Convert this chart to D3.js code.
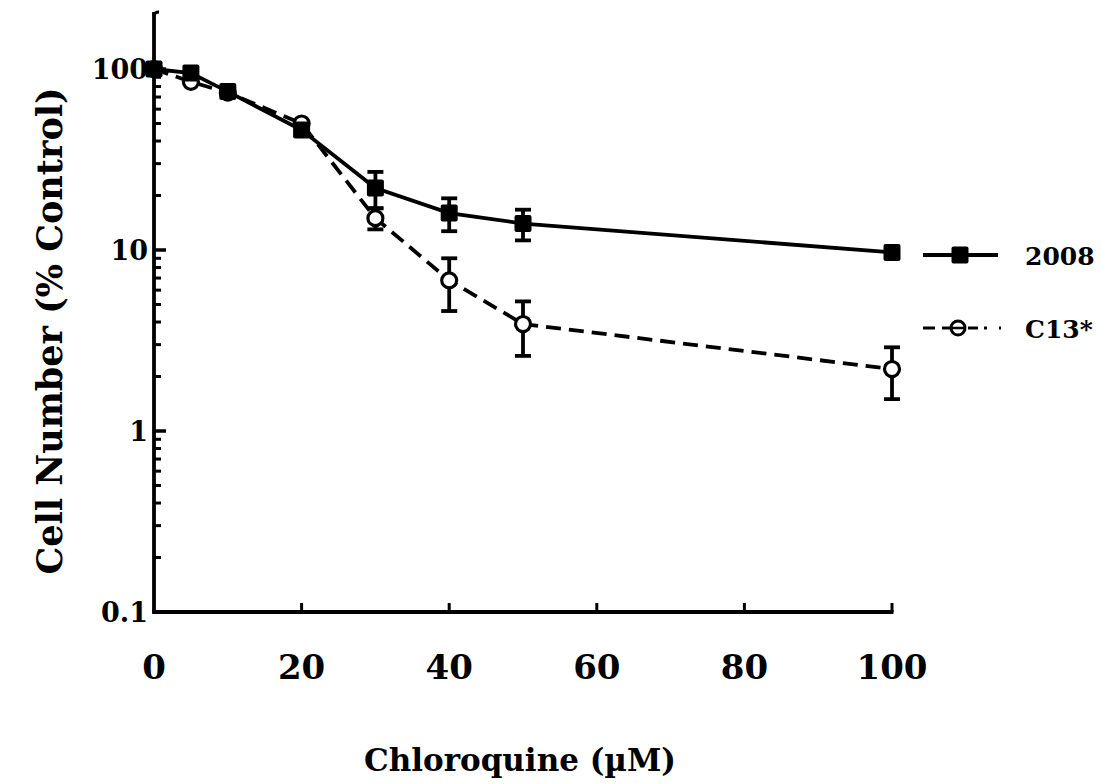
<!DOCTYPE html>
<html>
<head>
<meta charset="utf-8">
<script src="https://cdn.jsdelivr.net/npm/d3@7"></script>
<style>
  html, body { margin: 0; padding: 0; background: #fff; }
  svg { display: block; }
  text { font-family: "DejaVu Serif", "Liberation Serif", serif; font-weight: bold; fill: #000; }
</style>
</head>
<body>
<svg id="chart" width="1102" height="784"></svg>
<script>
// ---- data ----
const concentrations = [0, 5, 10, 20, 30, 40, 50, 100];
const values2008 = [100, 95, 75, 46, 22, 16, 14, 9.7];
const errors2008 = [0, 0, 0, 0, 5, 3.3, 2.7, 0];
const valuesC13 = [100, 85, 74, 50, 15, 6.8, 3.9, 2.2];
const errorsC13 = [0, 0, 0, 0, 2, 2.2, 1.3, 0.7];
const xTickValues = [0, 20, 40, 60, 80, 100];
const yTickValues = [0.1, 1, 10, 100];
const seriesNames = ["2008", "C13*"];
const xTitle = "Chloroquine (\u00B5M)";
const yTitle = "Cell Number (% Control)";

const svg = d3.select("#chart");
const x = d3.scaleLinear().domain([0, 100]).range([154, 892]);
const y = d3.scaleLog().domain([0.1, 100]).range([612, 69]);
const yTop = 12;

const ink = "#000";
const lw = 3.8;

// ---- axes ----
const g = svg.append("g");
g.append("line").attr("x1", x(0)).attr("x2", x(0)).attr("y1", yTop).attr("y2", y(0.1))
  .attr("stroke", ink).attr("stroke-width", lw);
g.append("path").attr("d", `M${x(0)},${yTop + 4} Q${x(0)},${yTop} ${x(0) + 5},${yTop}`)
  .attr("fill", "none").attr("stroke", ink).attr("stroke-width", 3);
g.append("line").attr("x1", x(0) - 1.9).attr("x2", x(100) + 1.5).attr("y1", y(0.1)).attr("y2", y(0.1))
  .attr("stroke", ink).attr("stroke-width", lw);

const yMajor = yTickValues.filter(v => v > 0.1);
g.selectAll(".ymaj").data(yMajor).enter().append("line")
  .attr("x1", x(0)).attr("x2", x(0) + 12).attr("y1", d => y(d)).attr("y2", d => y(d))
  .attr("stroke", ink).attr("stroke-width", 3.5);
const yMinor = [];
[0.1, 1, 10].forEach(dec => { for (let k = 2; k <= 9; k++) yMinor.push(dec * k); });
g.selectAll(".ymin").data(yMinor).enter().append("line")
  .attr("x1", x(0)).attr("x2", x(0) + 7).attr("y1", d => y(d)).attr("y2", d => y(d))
  .attr("stroke", ink).attr("stroke-width", 3);
g.selectAll(".ylab").data(yTickValues).enter().append("text")
  .attr("x", 148).attr("y", d => y(d)).attr("dy", "0.36em")
  .attr("text-anchor", "end").attr("font-size", 27)
  .text(d => d3.format("~g")(d));

g.selectAll(".xt").data(xTickValues.filter(v => v > 0)).enter().append("line")
  .attr("x1", d => x(d)).attr("x2", d => x(d)).attr("y1", y(0.1)).attr("y2", y(0.1) - 9)
  .attr("stroke", ink).attr("stroke-width", 3);
g.selectAll(".xlab").data(xTickValues).enter().append("text")
  .attr("x", d => x(d)).attr("y", 679)
  .attr("text-anchor", "middle").attr("font-size", 34)
  .text(d => d);

// titles
svg.append("text").attr("x", 520).attr("y", 771).attr("text-anchor", "middle")
  .attr("font-size", 31).text(xTitle);
svg.append("text").attr("transform", "translate(62,331) rotate(-90)")
  .attr("text-anchor", "middle").attr("font-size", 35).text(yTitle);

// ---- data series ----
const line = d3.line().x(d => x(d.c)).y(d => y(d.v));
const rows = (vals, errs) => concentrations.map((c, i) => ({ c, v: vals[i], e: errs[i] }));
const dC13 = rows(valuesC13, errorsC13);
const d2008 = rows(values2008, errors2008);

function errorBars(data) {
  const eb = svg.append("g");
  data.filter(d => d.e > 0).forEach(d => {
    const top = y(d.v + d.e), bot = y(d.v - d.e), cx = x(d.c);
    eb.append("line").attr("x1", cx).attr("x2", cx).attr("y1", top).attr("y2", bot)
      .attr("stroke", ink).attr("stroke-width", 3.8);
    [top, bot].forEach(yy => eb.append("line").attr("x1", cx - 8).attr("x2", cx + 8)
      .attr("y1", yy).attr("y2", yy).attr("stroke", ink).attr("stroke-width", 3.8));
  });
}

svg.append("path").datum(dC13).attr("d", line).attr("fill", "none")
  .attr("stroke", ink).attr("stroke-width", lw).attr("stroke-dasharray", "15,8");
errorBars(dC13);
svg.append("g").selectAll("circle").data(dC13).enter().append("circle")
  .attr("cx", d => x(d.c)).attr("cy", d => y(d.v)).attr("r", 7.5)
  .attr("fill", "#fff").attr("stroke", ink).attr("stroke-width", 3.2);

svg.append("path").datum(d2008).attr("d", line).attr("fill", "none")
  .attr("stroke", ink).attr("stroke-width", lw);
errorBars(d2008);
svg.append("g").selectAll("rect").data(d2008).enter().append("rect")
  .attr("x", d => x(d.c) - 8.5).attr("y", d => y(d.v) - 8.5).attr("width", 17).attr("height", 17)
  .attr("rx", 2).attr("fill", ink);

// ---- legend ----
const lg = svg.append("g");
const legY = [255, 328];
lg.append("line").attr("x1", 923).attr("x2", 998).attr("y1", legY[0]).attr("y2", legY[0])
  .attr("stroke", ink).attr("stroke-width", lw);
lg.append("rect").attr("x", 960 - 8.5).attr("y", legY[0] - 8.5).attr("width", 17).attr("height", 17)
  .attr("rx", 2).attr("fill", ink);
lg.append("line").attr("x1", 923).attr("x2", 1001).attr("y1", legY[1]).attr("y2", legY[1])
  .attr("stroke", ink).attr("stroke-width", 3).attr("stroke-dasharray", "12,7,12,14,10,6,3");
lg.append("circle").attr("cx", 958).attr("cy", legY[1]).attr("r", 7)
  .attr("fill", "#fff").attr("stroke", ink).attr("stroke-width", 3);
lg.append("line").attr("x1", 952).attr("x2", 964).attr("y1", legY[1]).attr("y2", legY[1])
  .attr("stroke", ink).attr("stroke-width", 2.5);
lg.selectAll("text").data(seriesNames).enter().append("text")
  .attr("x", 1025).attr("y", (d, i) => legY[i]).attr("dy", "0.38em")
  .attr("font-size", 25).text(d => d);
</script>
</body>
</html>
